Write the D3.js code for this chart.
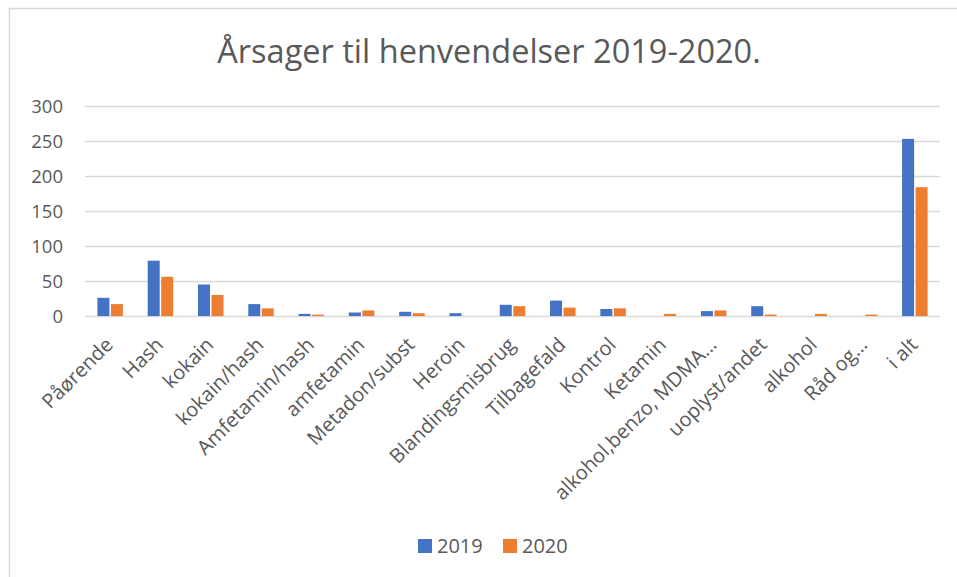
<!DOCTYPE html>
<html>
<head>
<meta charset="utf-8">
<script src="https://cdn.jsdelivr.net/npm/d3@7"></script>
<style>
  body { margin: 0; background: #fff; }
  text { font-family: "Open Sans", sans-serif; fill: #595959; }
</style>
</head>
<body>
<script>
var categories = ["Påørende", "Hash", "kokain", "kokain/hash", "Amfetamin/hash", "amfetamin",
  "Metadon/subst", "Heroin", "Blandingsmisbrug", "Tilbagefald", "Kontrol", "Ketamin",
  "alkohol,benzo, MDMA…", "uoplyst/andet", "alkohol", "Råd og…", "i alt"];
var values2019 = [26, 79, 45, 17, 3, 5, 6, 4, 16, 22, 10, 0, 7, 14, 0, 0, 253];
var values2020 = [17, 56, 30, 11, 2, 8, 4, 0, 14, 12, 11, 3, 8, 2, 3, 2, 184];
var seriesNames = ["2019", "2020"];
var colors = ["#4472c4", "#ed7d31"];
var yTicks = [0, 50, 100, 150, 200, 250, 300];

var W = 957, H = 577;
var svg = d3.select("body").append("svg")
  .attr("width", W)
  .attr("height", H);

// chart frame (cut off on right and bottom, like the screenshot)
svg.append("rect")
  .attr("x", 9.5).attr("y", 8.5)
  .attr("width", 960).attr("height", 580)
  .attr("fill", "#fff")
  .attr("stroke", "#d9d9d9")
  .attr("stroke-width", 1.5);

var margin = {left: 85, right: 17, top: 106, bottom: 261};
var x = d3.scaleBand()
  .domain(categories)
  .range([margin.left, W - margin.right])
  .paddingInner(0.5)
  .paddingOuter(0.25);
var x1 = d3.scaleBand()
  .domain(seriesNames)
  .range([-13.5, 13.5]);
var y = d3.scaleLinear()
  .domain([0, 300])
  .range([H - margin.bottom, margin.top]);

// gridlines
svg.append("g")
  .selectAll("line")
  .data(yTicks)
  .join("line")
  .attr("x1", margin.left).attr("x2", W - margin.right)
  .attr("y1", d => y(d) + 0.5).attr("y2", d => y(d) + 0.5)
  .attr("stroke", "#d9d9d9")
  .attr("stroke-width", 1.5);

var yAxis = svg.append("g")
  .attr("transform", "translate(" + (margin.left - 22) + ",0)")
  .call(d3.axisLeft(y).tickValues(yTicks).tickSize(0).tickPadding(0));
yAxis.select(".domain").remove();
yAxis.selectAll("text")
  .style("font-size", "18.5px")
  .attr("dy", "0.35em");

// bars
var data = categories.map((c, i) => ({cat: c, vals: [values2019[i], values2020[i]]}));
var groups = svg.append("g")
  .selectAll("g")
  .data(data)
  .join("g")
  .attr("transform", d => "translate(" + (x(d.cat) + x.bandwidth() / 2) + ",0)");
groups.selectAll("rect")
  .data(d => d.vals.map((v, k) => ({v: v, k: k})))
  .join("rect")
  .attr("x", d => x1(seriesNames[d.k]) + 0.75)
  .attr("width", x1.bandwidth() - 1.5)
  .attr("y", d => y(d.v))
  .attr("height", d => y(0) - y(d.v))
  .attr("fill", d => colors[d.k]);

// x labels
var xAxis = svg.append("g")
  .attr("transform", "translate(0," + y(0) + ")")
  .call(d3.axisBottom(x).tickSize(0).tickPadding(0));
xAxis.select(".domain").remove();
xAxis.selectAll("text")
  .style("font-size", "20px")
  .attr("text-anchor", "end")
  .attr("dy", null)
  .attr("y", 0)
  .attr("transform", "translate(4,30) rotate(-45)");

// title
svg.append("text")
  .attr("x", 489).attr("y", 63)
  .attr("text-anchor", "middle")
  .style("font-size", "32.5px")
  .text("Årsager til henvendelser 2019-2020.");

// legend
var legend = svg.append("g")
  .selectAll("g")
  .data(seriesNames)
  .join("g")
  .attr("transform", (d, i) => "translate(" + (418 + i * 85) + ",546)");
legend.append("rect")
  .attr("x", 0).attr("y", -7)
  .attr("width", 14).attr("height", 14)
  .attr("fill", (d, i) => colors[i]);
legend.append("text")
  .attr("x", 19).attr("y", 0)
  .attr("dy", "0.35em")
  .style("font-size", "20px")
  .text(d => d);
</script>
</body>
</html>
